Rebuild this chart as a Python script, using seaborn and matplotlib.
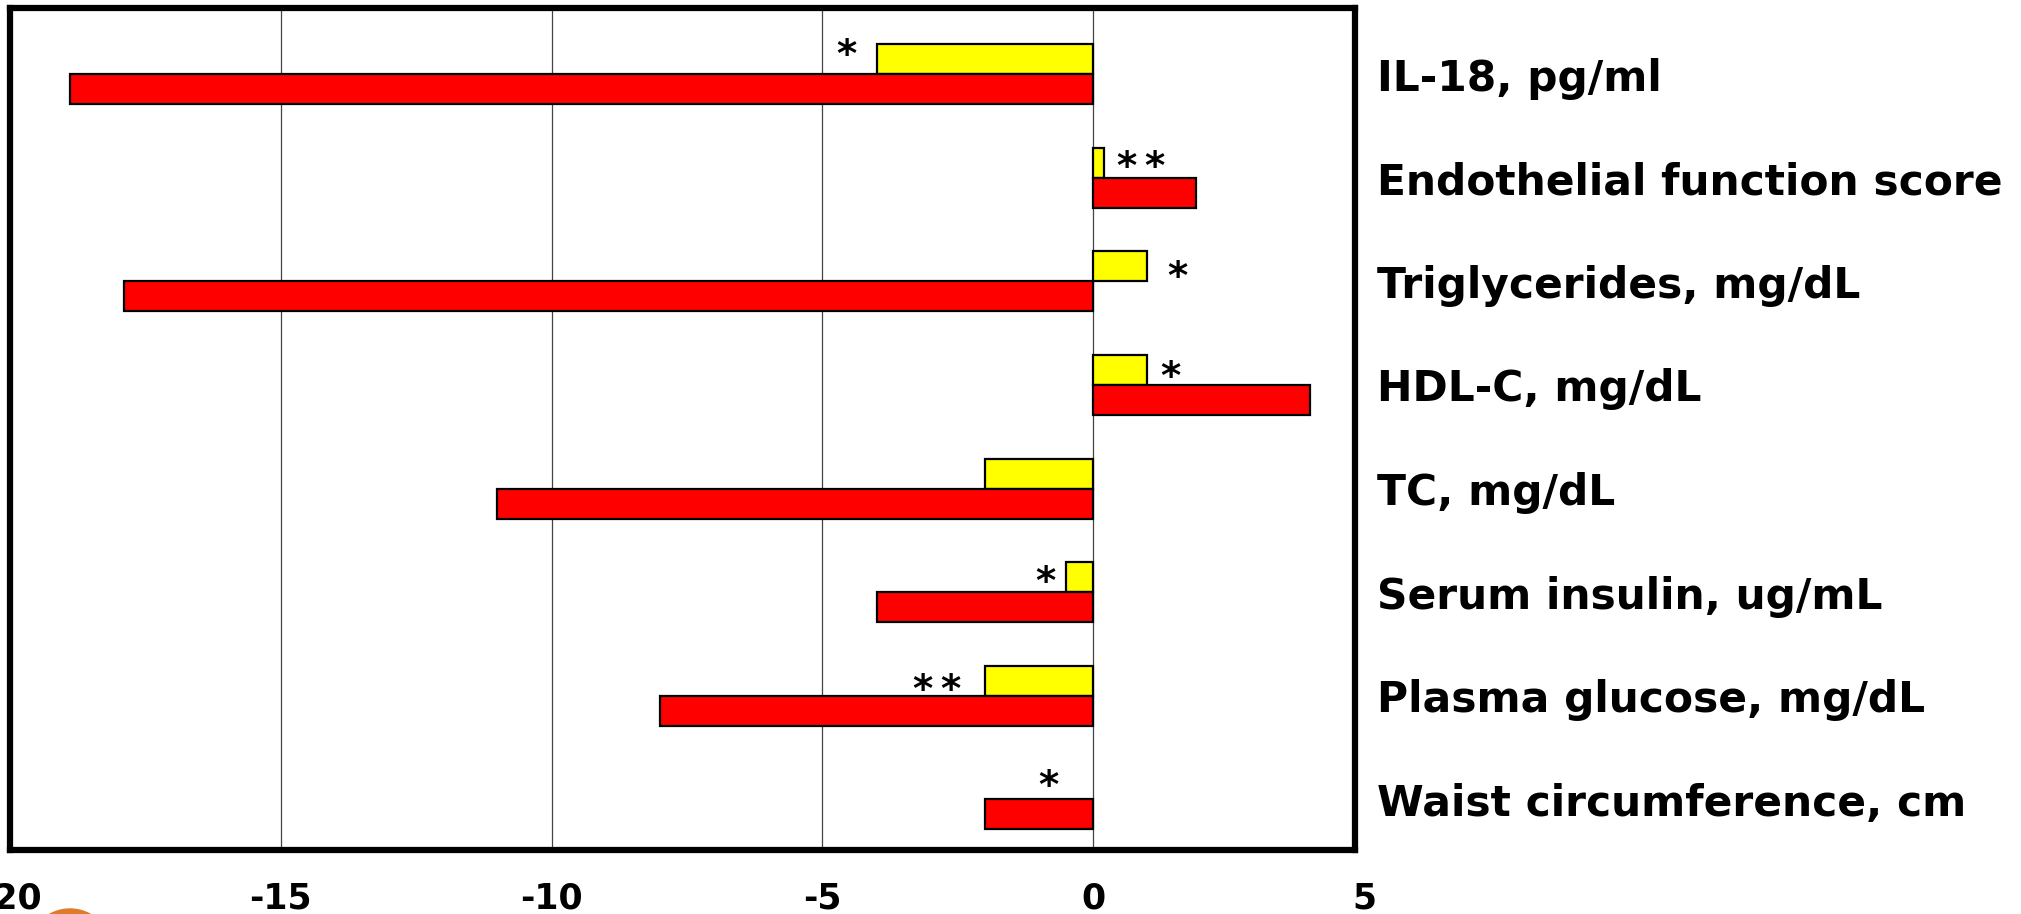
import matplotlib
matplotlib.use("Agg")
import matplotlib.pyplot as plt
import seaborn as sns
import pandas as pd
import numpy as np
from matplotlib.patches import Circle

categories = [
    "IL-18, pg/ml",
    "Endothelial function score",
    "Triglycerides, mg/dL",
    "HDL-C, mg/dL",
    "TC, mg/dL",
    "Serum insulin, ug/mL",
    "Plasma glucose, mg/dL",
    "Waist circumference, cm",
]
series_names = ["Control", "Intervention"]
control_values = [-4.0, 0.2, 1.0, 1.0, -2.0, -0.5, -2.0, np.nan]
intervention_values = [-18.9, 1.9, -17.9, 4.0, -11.0, -4.0, -8.0, -2.0]
x_ticks = [-20, -15, -10, -5, 0, 5]
x_tick_labels = ["-20", "-15", "-10", "-5", "0", "5"]

# significance marks: (text, category index, x value, y offset within category)
sig_text = ["*", "*\u2009*", "*", "*", "*", "*\u2009*", "*"]
sig_cat = [0, 1, 2, 3, 5, 6, 7]
sig_x = [-4.55, 0.88, 1.55, 1.42, -0.89, -2.89, -0.83]
sig_dy = [-0.25, -0.17, -0.11, -0.14, -0.16, -0.12, -0.19]

df = pd.DataFrame({
    "category": categories * 2,
    "series": [series_names[0]] * len(categories) + [series_names[1]] * len(categories),
    "value": control_values + intervention_values,
})

sns.set_theme(style="white")
plt.rcParams["font.family"] = ["DejaVu Sans"]
plt.rcParams["font.weight"] = "bold"
plt.rcParams["text.color"] = "black"
plt.rcParams["xtick.color"] = "black"
plt.rcParams["ytick.color"] = "black"

W, H = 2021, 914
fig = plt.figure(figsize=(W / 100, H / 100), dpi=100)
ax = fig.add_axes([10 / W, 64 / H, (1364 - 10) / W, (906 - 64) / H])

sns.barplot(
    data=df, y="category", x="value", hue="series", order=categories,
    hue_order=series_names, palette=["#FFFF00", "#FF0000"], orient="h",
    width=0.58, edgecolor="black", linewidth=1.6, ax=ax, legend=False,
    saturation=1, errorbar=None,
)

# frame first (moving a spine resets that axis' ticks)
for sp in ax.spines.values():
    sp.set_visible(True)
    sp.set_color("black")
    sp.set_linewidth(4.5)
ax.spines["right"].set_position(("data", 4.84))
ax.spines["top"].set_bounds(-20, 4.84)
ax.spines["bottom"].set_bounds(-20, 4.84)

ax.set_xlim(-20, 5)
ax.set_ylim(7.49, -0.64)
ax.set_xlabel("")
ax.set_ylabel("")
ax.yaxis.tick_right()
ax.tick_params(axis="y", length=0, pad=15.5, labelsize=30.5, labelcolor="black")
ax.tick_params(axis="x", length=0, pad=23, labelsize=25, labelcolor="black")
ax.set_xticks(x_ticks)
ax.set_xticklabels(x_tick_labels, fontweight="bold")
ax.set_yticks(range(len(categories)))
ax.set_yticklabels(categories, fontweight="bold")

ax.set_axisbelow(True)
ax.grid(axis="x", color="#444444", linewidth=0.9)
ax.grid(axis="y", visible=False)
ax.xaxis.get_major_ticks()[-1].gridline.set_visible(False)

for t, c, x, dy in zip(sig_text, sig_cat, sig_x, sig_dy):
    ax.annotate(t, xy=(x, c + dy), xytext=(0, -5.5), textcoords="offset points",
                ha="center", va="center", fontsize=28, fontweight="bold",
                color="black")

# orange logo fragment at the bottom-left corner
fig.patches.append(Circle((70, -37), 42, transform=None, color="#E07A2A", zorder=5))

fig.savefig("out.png", dpi=100, facecolor="white")
